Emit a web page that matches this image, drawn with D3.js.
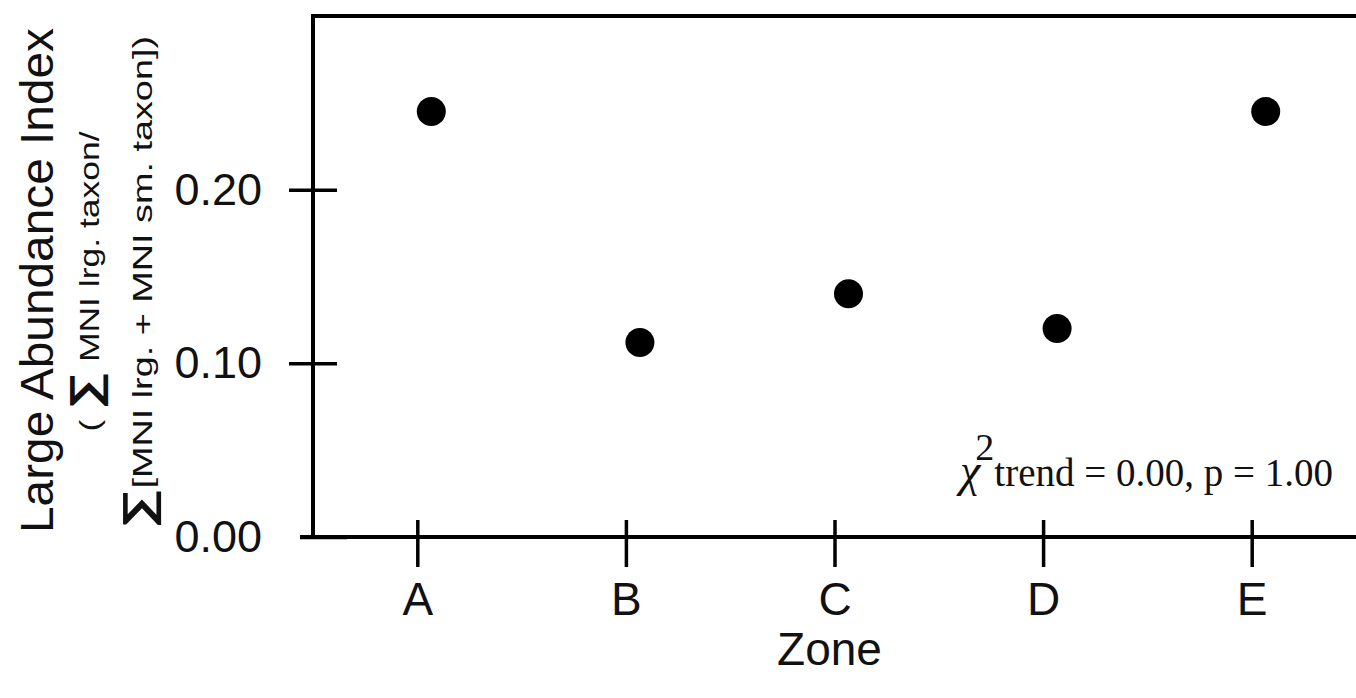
<!DOCTYPE html>
<html>
<head>
<meta charset="utf-8">
<script src="https://cdn.jsdelivr.net/npm/d3@7"></script>
<style>
  html, body { margin: 0; padding: 0; background: #fff; overflow: hidden; }
  #main { width: 1356px; height: 698px; }
</style>
</head>
<body>
<div id="main"></div>
<script>
// data
const zones = ["A", "B", "C", "D", "E"];
const abundanceIndex = [0.245, 0.112, 0.140, 0.120, 0.245];
const yTickValues = [0.00, 0.10, 0.20];
const yTitleLines = ["Large Abundance Index", "MNI lrg. taxon/", "[MNI lrg. + MNI sm. taxon])"];
const trendLabel = ["χ", "2", "trend", " = 0.00, p = 1.00"];

function drawChart() {
    d3.select("#main svg").remove();

    const width = 1356, height = 698;
    const margin = { top: 16, right: 0, bottom: 161, left: 313 };
    const sans = "'Liberation Sans', Arial, Helvetica, sans-serif";
    const serif = "'Liberation Serif', 'Times New Roman', serif";

    const svg = d3.select("#main").append("svg")
        .attr("width", width)
        .attr("height", height)
        .style("background", "#fff");

    const x = d3.scalePoint()
        .domain(zones)
        .range([margin.left, width - margin.right])
        .padding(0.5);

    const y = d3.scaleLinear()
        .domain([0, 0.3])
        .range([height - margin.bottom, margin.top]);

    // y axis ticks + labels
    const yAxis = svg.append("g")
        .attr("transform", `translate(${margin.left},0)`)
        .call(d3.axisLeft(y).tickValues(yTickValues).tickFormat(d3.format(".2f"))
            .tickSize(24).tickPadding(27));
    yAxis.select(".domain").remove();
    yAxis.selectAll(".tick line")
        .attr("x1", d => d === 0 ? -13 : -24)
        .attr("x2", d => d === 0 ? 34 : 24)
        .attr("stroke", "#000")
        .attr("stroke-width", 3.5);
    yAxis.selectAll(".tick text")
        .attr("fill", "#111")
        .style("font-family", sans)
        .style("font-size", "45px");

    // x axis ticks + labels
    const xAxis = svg.append("g")
        .attr("transform", `translate(0,${y(0)})`)
        .call(d3.axisBottom(x).tickSize(30).tickPadding(15));
    xAxis.select(".domain").remove();
    xAxis.selectAll(".tick line")
        .attr("y1", -17)
        .attr("stroke", "#000")
        .attr("stroke-width", 3.5);
    xAxis.selectAll(".tick text")
        .attr("fill", "#111")
        .style("font-family", sans)
        .style("font-size", "46px");

    // frame: left, top, bottom (no right side)
    const frame = svg.append("g")
        .attr("stroke", "#000")
        .attr("stroke-width", 4)
        .attr("fill", "none");
    frame.append("line")
        .attr("x1", margin.left).attr("x2", margin.left)
        .attr("y1", y.range()[1] - 2).attr("y2", y(0) + 2);
    frame.append("line")
        .attr("x1", margin.left - 2).attr("x2", width)
        .attr("y1", y.range()[1]).attr("y2", y.range()[1]);
    frame.append("line")
        .attr("x1", margin.left - 13).attr("x2", width)
        .attr("y1", y(0)).attr("y2", y(0));

    // points (sit a little right of each tick, as in the figure)
    const dotShift = 14;
    svg.append("g")
        .selectAll("circle")
        .data(zones.map((z, i) => ({ zone: z, value: abundanceIndex[i] })))
        .enter().append("circle")
        .attr("cx", d => x(d.zone) + dotShift)
        .attr("cy", d => y(d.value))
        .attr("r", 14.5)
        .attr("fill", "#000");

    // axis titles
    const midY = (y.range()[0] + y.range()[1]) / 2 + 4;

    svg.append("text")
        .attr("transform", `translate(53,${midY}) rotate(-90)`)
        .attr("text-anchor", "middle")
        .attr("textLength", 505)
        .attr("lengthAdjust", "spacingAndGlyphs")
        .style("font-family", sans)
        .style("font-size", "47px")
        .attr("fill", "#111")
        .text(yTitleLines[0]);

    const l2 = svg.append("text")
        .attr("transform", `translate(99,${midY + 1}) rotate(-90)`)
        .attr("text-anchor", "middle")
        .attr("textLength", 300)
        .attr("lengthAdjust", "spacingAndGlyphs")
        .style("font-family", sans)
        .style("font-size", "28px")
        .attr("fill", "#111");
    l2.append("tspan").text("( ");
    l2.append("tspan").style("font-weight", "bold").style("font-size", "42px").text("∑");
    l2.append("tspan").text(" " + yTitleLines[1]);

    const l3 = svg.append("text")
        .attr("transform", `translate(152,${midY + 2}) rotate(-90)`)
        .attr("text-anchor", "middle")
        .attr("textLength", 493)
        .attr("lengthAdjust", "spacingAndGlyphs")
        .style("font-family", sans)
        .style("font-size", "28px")
        .attr("fill", "#111");
    l3.append("tspan").style("font-weight", "bold").style("font-size", "42px").text("∑");
    l3.append("tspan").text(yTitleLines[2]);

    svg.append("text")
        .attr("x", (margin.left + width) / 2 - 5)
        .attr("y", 665)
        .attr("text-anchor", "middle")
        .style("font-family", sans)
        .style("font-size", "46px")
        .attr("fill", "#111")
        .text("Zone");

    // chi-square trend note
    const note = svg.append("text")
        .attr("x", 1333)
        .attr("y", 486)
        .attr("text-anchor", "end")
        .style("font-family", serif)
        .style("font-size", "39px")
        .attr("fill", "#111");
    note.append("tspan").style("font-style", "italic").style("font-size", "46px").text(trendLabel[0]);
    note.append("tspan").attr("dy", -26).attr("dx", -5).style("font-size", "38px").text(trendLabel[1]);
    note.append("tspan").attr("dy", 26).text(trendLabel[2]);
    note.append("tspan").text(trendLabel[3]);
}

document.addEventListener("DOMContentLoaded", function() {
    drawChart();
});
</script>
</body>
</html>
